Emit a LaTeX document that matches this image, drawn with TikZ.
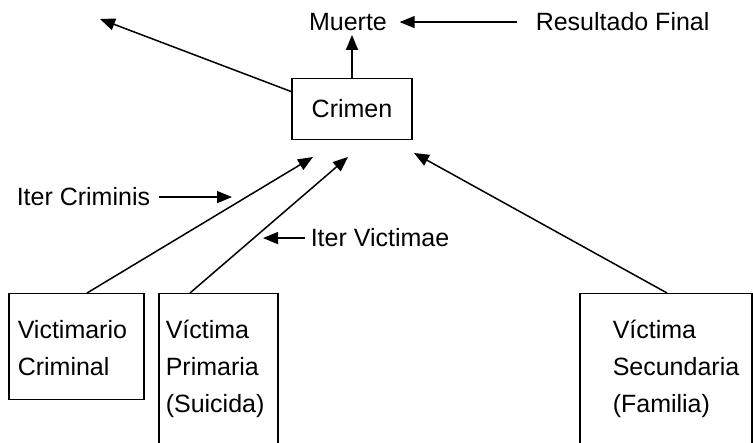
\documentclass[tikz,border=0pt]{standalone}
\usepackage{fontspec}
\setmainfont{Liberation Sans}
\usetikzlibrary{arrows.meta,calc}
\begin{document}
\begin{tikzpicture}[x=1pt,y=-1pt, line width=1.5pt,
  box/.style={draw, line width=1.5pt, inner sep=0pt, anchor=north west},
  lbl/.style={font=\fontsize{25}{30}\selectfont, inner sep=0pt, anchor=base west},
  arr/.style={-{Triangle[length=15pt,width=12pt]}, line width=1.5pt}]
\useasboundingbox (0,0) rectangle (753,443);
\clip (0,0) rectangle (753,443);
% boxes
\node[box, minimum width=135pt, minimum height=106pt] (vcbox) at (8,293) {};
\node[box, minimum width=119pt, minimum height=180pt] (vpbox) at (158,293) {};
\node[box, minimum width=172pt, minimum height=180pt] (vsbox) at (579,293) {};
\node[draw, line width=1.5pt, minimum width=120pt, minimum height=61pt, inner sep=0pt,
      font=\fontsize{25}{30}\selectfont] (crimen) at (352,109) {Crimen};
% box texts
\node[lbl] (t1) at (17,339) {Victimario};
\node[lbl] (t2) at (17,376) {Criminal};
\node[lbl] (t3) at (165,339) {Víctima};
\node[lbl] (t4) at (165,376) {Primaria};
\node[lbl] (t5) at (165,413) {(Suicida)};
\node[lbl] (t6) at (612,339) {Víctima};
\node[lbl] (t7) at (612,376) {Secundaria};
\node[lbl] (t8) at (612,413) {(Familia)};
% labels
\node[lbl, anchor=base] (muerte) at (348,31) {Muerte};
\node[lbl] (res) at (535,31) {Resultado Final};
\node[lbl] (ic) at (16,206) {Iter Criminis};
\node[lbl] (iv) at (310,247) {Iter Victimae};
% free ends
\coordinate (tl) at (100,19);
\coordinate (p1) at (313,157);
\coordinate (p2) at (348,157);
\coordinate (p3) at (414,153);
\coordinate (icend) at (232,201);
\coordinate (ivend) at (263,238);
% arrows
\draw[arr, shorten >=3pt] (crimen.north) -- (crimen.north |- muerte.south);
\draw[arr] (crimen.164) -- (tl);
\draw[arr, shorten <=18pt, shorten >=12pt] (res.west) -- (muerte.east |- res.west);
\draw[arr, shorten <=8pt] (ic.east) -- (ic.east -| icend);
\draw[arr, shorten <=5pt] (iv.west) -- (iv.west -| ivend);
\draw[arr] ($(vcbox.north west)+(79,0)$) -- (p1);
\draw[arr] ($(vpbox.north west)+(32,0)$) -- (p2);
\draw[arr] ($(vsbox.north west)+(88,0)$) -- (p3);
\end{tikzpicture}
\end{document}
